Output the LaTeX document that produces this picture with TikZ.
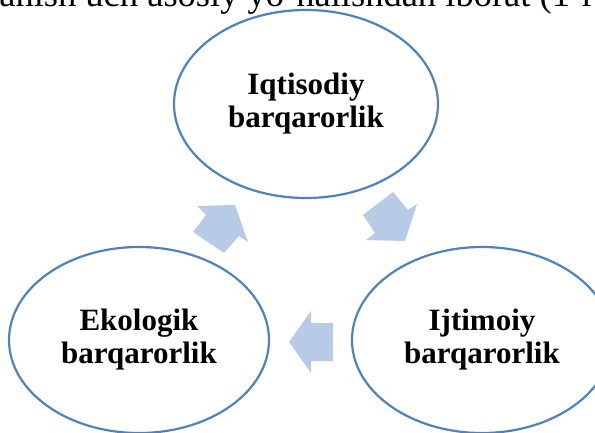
\documentclass[tikz,border=0pt]{standalone}
\usepackage{fontspec}
\setmainfont{Liberation Serif}
\usetikzlibrary{shapes.geometric}
\definecolor{ringblue}{HTML}{4F81BD}
\definecolor{arrowblue}{HTML}{B7CBE6}

\begin{document}
\begin{tikzpicture}[x=1pt, y=-1pt,
  barqaror/.style={ellipse, draw=ringblue, line width=2.2pt, inner sep=0pt, align=center,
    font=\fontsize{31}{33}\selectfont\bfseries},
  aylanma/.style={fill=arrowblue, draw=none}]
\useasboundingbox (0,0) rectangle (595,433);
\clip (0,0) rectangle (595,433);
\node[anchor=base west, inner sep=0pt, font=\fontsize{36.5}{40}\selectfont] (matn) at (-80,7) {rivojlanish uch asosiy yo‘nalishdan iborat (1-rasm).};
\node[barqaror, minimum width=264pt, minimum height=188pt] (iqtisodiy) at (306,104) {Iqtisodiy\\barqarorlik};
\node[barqaror, minimum width=260pt, minimum height=186pt] (ekologik) at (139,340) {Ekologik\\barqarorlik};
\node[barqaror, minimum width=260pt, minimum height=186pt] (ijtimoiy) at (482,340) {Ijtimoiy\\barqarorlik};
\fill[aylanma] (193,232) -- (206,215) -- (197,206) -- (235,205) -- (248,242) -- (239,236) -- (224,253) -- cycle;
\fill[aylanma] (393,192) -- (408,210) -- (417,204) -- (405,241) -- (366,240) -- (375,233) -- (363,215) -- cycle;
\fill[aylanma] (289,342) -- (311,311) -- (311,323) -- (333,323) -- (333,361) -- (311,361) -- (311,373) -- cycle;
\end{tikzpicture}
\end{document}
